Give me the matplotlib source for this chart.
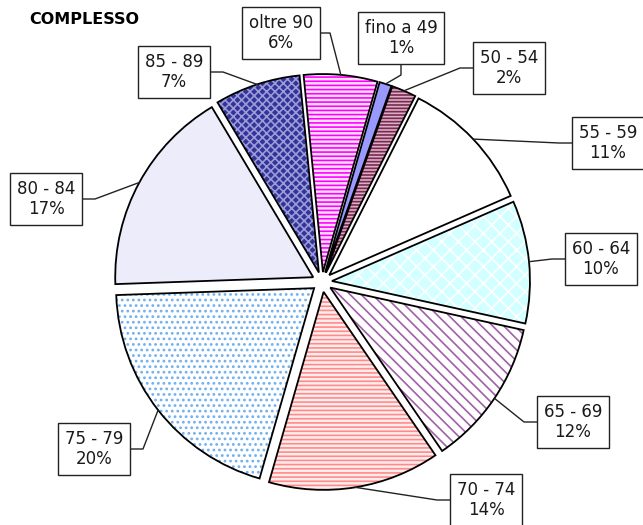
import numpy as np
import matplotlib.pyplot as plt

W, H = 643, 525  # figure size in pixels, the axes uses pixel units

# age classes and their share of the total (%)
labels = ['fino a 49', '50 - 54', '55 - 59', '60 - 64', '65 - 69',
          '70 - 74', '75 - 79', '80 - 84', '85 - 89', 'oltre 90']
shares = [1, 2, 11, 10, 12, 14, 20, 17, 7, 6]

# fill styles imitating the Excel patterns
faces = ['#9999FF', '#D9AFC4', '#FFFFFF', '#D2FFFF', '#FFFFFF',
         '#FFEDED', '#FFFFFF', '#ECECFB', '#333399', '#FFE0FF']
hatch_cols = ['#9999FF', '#7A2850', '#FFFFFF', '#FFFFFF', '#A060A8',
              '#FF8A8A', '#6FB0F0', '#D8D8F4', '#9C9CD8', '#FF00FF']
hatches = [None, '-----', None, 'xx', '\\\\\\', '----', '...', None, 'xxxx', '----']

# label box centres (pixels from top-left) and where the leader leaves the box
box_pos = [(401, 38), (509, 68), (608, 143), (601, 259), (573, 422),
           (486, 500), (94, 449), (46, 199), (174, 72), (281, 33)]
box_side = ['bottom', 'left', 'left', 'left', 'left',
            'left', 'right', 'right', 'right', 'right']

cx, cy, R = 322, H - 282, 198
explode = [10] * len(shares)

fig = plt.figure(figsize=(W / 100, H / 100), dpi=100)
ax = fig.add_axes([0, 0, 1, 1])
plt.rcParams['hatch.linewidth'] = 1.2

# pattern layer
wedges, _ = ax.pie(shares, explode=explode, startangle=90 - 16, counterclock=False,
                   center=(cx, cy), radius=R)
for w, fc, hc, ht in zip(wedges, faces, hatch_cols, hatches):
    w.set_facecolor(fc)
    w.set_edgecolor(hc)
    w.set_linewidth(0)
    if ht:
        w.set_hatch(ht)

# outline layer
outl, _ = ax.pie(shares, explode=explode, startangle=90 - 16, counterclock=False,
                 center=(cx, cy), radius=R,
                 wedgeprops=dict(fill=False, edgecolor='black', linewidth=1.3))

# label boxes + leader lines
for w, lab, val, (bx, by), side in zip(wedges, labels, shares, box_pos, box_side):
    tm = np.deg2rad((w.theta1 + w.theta2) / 2)
    ax_, ay_ = w.center[0] + w.r * np.cos(tm), w.center[1] + w.r * np.sin(tm)
    by = H - by
    if side == 'bottom':
        elbow = (bx, by - 25 - 12)
    elif side == 'left':
        elbow = (bx - 37 - 12, by)
    else:
        elbow = (bx + 37 + 12, by)
    ax.plot([bx, elbow[0], ax_], [by, elbow[1], ay_], color='#222222', lw=1, zorder=3)
    ax.text(bx, by, f'{lab}\n{val}%', ha='center', va='center', fontsize=12,
            color='#1a1a1a', zorder=5, linespacing=1.15,
            bbox=dict(boxstyle='square,pad=0.4', facecolor='white',
                      edgecolor='#222222', linewidth=1))

ax.set_xlim(0, W)
ax.set_ylim(0, H)
ax.set_aspect('equal')
ax.axis('off')

fig.text(29 / W, 1 - 20 / H, 'COMPLESSO', fontsize=11.5, fontweight='bold',
         ha='left', va='center')

fig.savefig('out.png', dpi=100)
